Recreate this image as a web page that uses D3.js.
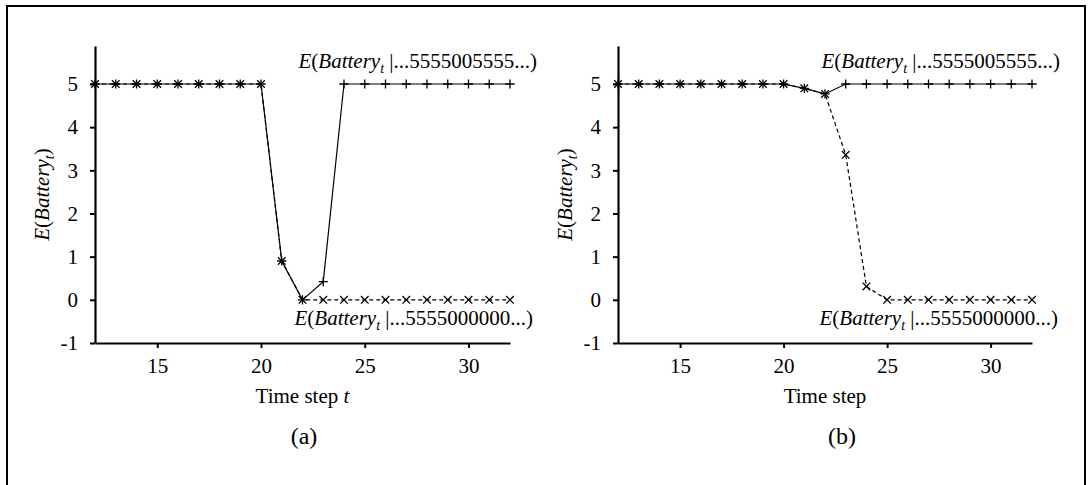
<!DOCTYPE html>
<html><head><meta charset="utf-8">
<script src="https://cdn.jsdelivr.net/npm/d3@7"></script>
<style>
html,body{margin:0;padding:0;background:#fff;}
text{font-family:"Liberation Serif","Times New Roman",serif;fill:#000;}
</style></head>
<body><svg id="c" width="1091" height="485"></svg>
<script>
// ---- data ----
const timeSteps = [12,13,14,15,16,17,18,19,20,21,22,23,24,25,26,27,28,29,30,31,32];
const xTicks = [15,20,25,30];
const yTicks = [-1,0,1,2,3,4,5];
// panel (a)
const a_5555005555 = [5,5,5,5,5,5,5,5,5,0.9,0,0.42,5,5,5,5,5,5,5,5,5];
const a_5555000000 = [5,5,5,5,5,5,5,5,5,0.9,0,0,0,0,0,0,0,0,0,0,0];
// panel (b)
const b_5555005555 = [5,5,5,5,5,5,5,5,5,4.9,4.77,5,5,5,5,5,5,5,5,5,5];
const b_5555000000 = [5,5,5,5,5,5,5,5,5,4.9,4.77,3.36,0.31,0,0,0,0,0,0,0,0];
const seqUpper = " |...5555005555...)";
const seqLower = " |...5555000000...)";

const FS = 21;
const svg = d3.select("#c");
svg.append("rect").attr("x",7).attr("y",6).attr("width",1078).attr("height",520)
  .attr("fill","none").attr("stroke","#000").attr("stroke-width",2);

function label(g, x, y, seq, anchor){
  const t = g.append("text").attr("x",x).attr("y",y).attr("font-size",FS).attr("text-anchor",anchor||"start");
  t.append("tspan").attr("font-style","italic").text("E");
  t.append("tspan").text("(");
  t.append("tspan").attr("font-style","italic").text("Battery");
  t.append("tspan").attr("font-style","italic").attr("font-size",14).attr("dy",5).text("t");
  t.append("tspan").attr("dy",-5).text(seq);
  return t;
}

function panel(opt){
  const x = d3.scaleLinear().domain([12,32]).range(opt.xr);
  const y = d3.scaleLinear().domain([-1,5.88]).range([343,46]);
  const g = svg.append("g");
  // axes
  const ax = g.append("g").attr("transform",`translate(0,${y(-1)})`)
    .call(d3.axisBottom(x).tickValues(xTicks).tickSize(5).tickSizeOuter(0).tickPadding(5));
  const ay = g.append("g").attr("transform",`translate(${x(12)},0)`)
    .call(d3.axisLeft(y).tickValues(yTicks).tickSize(5).tickSizeOuter(0).tickPadding(opt.ypad).tickFormat(d3.format("d")));
  [ax,ay].forEach(a=>{
    a.attr("font-family",null);
    a.selectAll("path.domain").attr("stroke","#000").attr("stroke-width",2.2);
    a.selectAll(".tick line").attr("stroke","#000").attr("stroke-width",2);
    a.selectAll(".tick text").attr("font-size",FS);
  });
  ay.selectAll(".tick text").text(d=>d<0?"-"+Math.abs(d):d);
  ax.selectAll(".tick text").attr("dy","0.95em");

  const line = d3.line().x((d,i)=>x(timeSteps[i])).y(d=>y(d));
  g.append("path").datum(opt.lower).attr("d",line).attr("fill","none")
    .attr("stroke","#000").attr("stroke-width",1.2).attr("stroke-dasharray","4,3");
  g.append("path").datum(opt.upper).attr("d",line).attr("fill","none")
    .attr("stroke","#000").attr("stroke-width",1.2);
  // markers: x for lower series, + for upper series
  const s = 3.8;
  opt.lower.forEach((v,i)=>{
    const cx = x(timeSteps[i]), cy = y(v);
    g.append("path").attr("d",`M${cx-s},${cy-s}L${cx+s},${cy+s}M${cx-s},${cy+s}L${cx+s},${cy-s}`)
      .attr("stroke","#000").attr("stroke-width",1.3);
  });
  const p = 4.6;
  opt.upper.forEach((v,i)=>{
    const cx = x(timeSteps[i]), cy = y(v);
    g.append("path").attr("d",`M${cx-p},${cy}L${cx+p},${cy}M${cx},${cy-p}L${cx},${cy+p}`)
      .attr("stroke","#000").attr("stroke-width",1.3);
  });
  // series labels
  label(g, opt.upLbl[0], opt.upLbl[1], seqUpper, "end");
  label(g, opt.loLbl[0], opt.loLbl[1], seqLower, "end");
  // y axis label
  const yl = g.append("text").attr("transform",`translate(${x(12)-46},${(y(-1)+y(5.88))/2}) rotate(-90)`)
    .attr("text-anchor","middle").attr("font-size",FS);
  yl.append("tspan").attr("font-style","italic").text("E");
  yl.append("tspan").text("(");
  yl.append("tspan").attr("font-style","italic").text("Battery");
  yl.append("tspan").attr("font-style","italic").attr("font-size",14).attr("dy",5).text("t");
  yl.append("tspan").attr("dy",-5).text(")");
  // x label
  const xl = g.append("text").attr("x",(opt.xr[0]+opt.xr[1])/2).attr("y",403)
    .attr("text-anchor","middle").attr("font-size",FS);
  xl.append("tspan").text("Time step");
  if(opt.tItalic){ xl.append("tspan").text(" "); xl.append("tspan").attr("font-style","italic").text("t"); }
  g.append("text").attr("x",opt.cap[0]).attr("y",444).attr("text-anchor","middle")
    .attr("font-size",24).text(opt.cap[1]);
}

panel({xr:[95,510], upper:a_5555005555, lower:a_5555000000, ypad:12,
  upLbl:[537,68], loLbl:[533,325], tItalic:true, cap:[304,"(a)"]});
panel({xr:[618,1032], upper:b_5555005555, lower:b_5555000000, ypad:12,
  upLbl:[1060,68], loLbl:[1058,325], tItalic:false, cap:[842,"(b)"]});
</script></body></html>
